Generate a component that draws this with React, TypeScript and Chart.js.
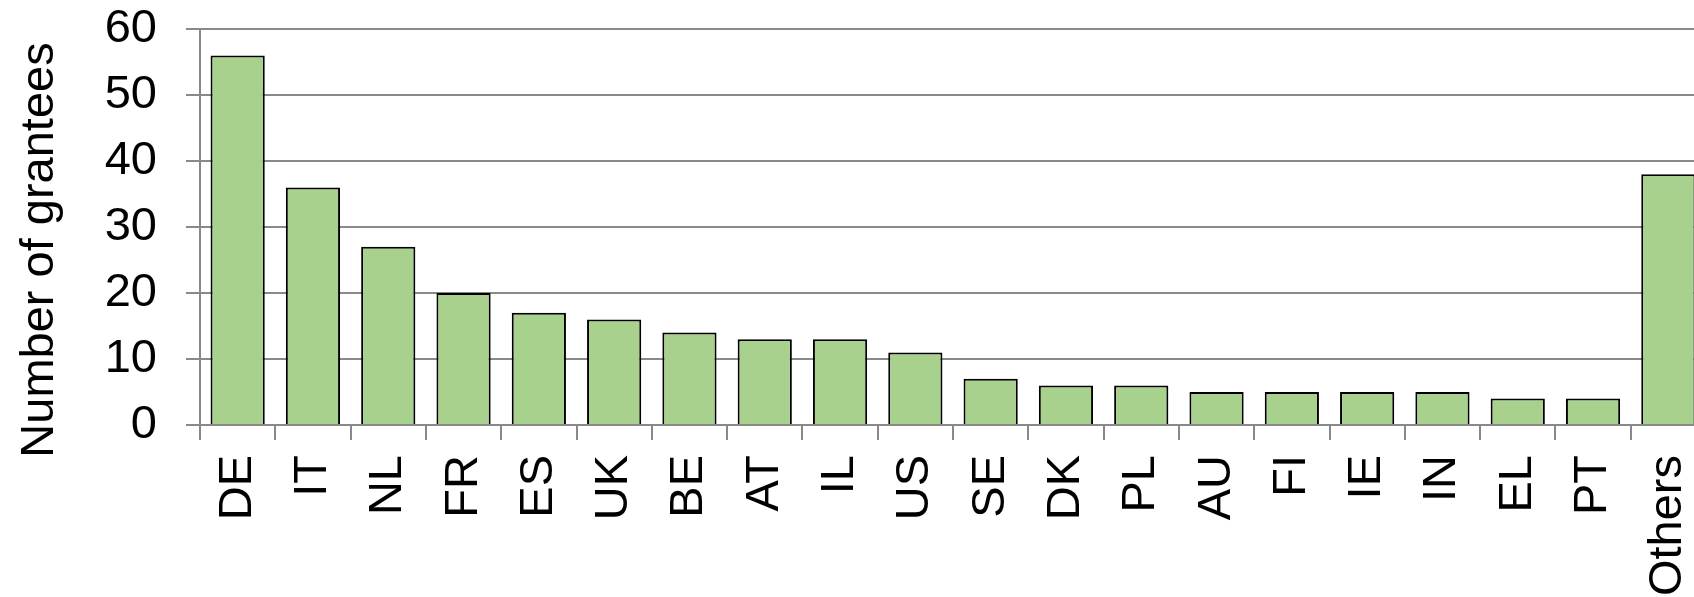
import React, { useEffect, useRef } from "react";
import { Chart, registerables } from "chart.js";

Chart.register(...registerables);

const categories = ["DE", "IT", "NL", "FR", "ES", "UK", "BE", "AT", "IL", "US", "SE", "DK", "PL", "AU", "FI", "IE", "IN", "EL", "PT", "Others"];
const grantees = [56, 36, 27, 20, 17, 16, 14, 13, 13, 11, 7, 6, 6, 5, 5, 5, 5, 4, 4, 38];
const yTicks = [0, 10, 20, 30, 40, 50, 60];
const yTitle = "Number of grantees";

const FONT = "'Liberation Sans', Arial, sans-serif";
const FS = 47;

const yTitlePlugin = {
  id: "yTitlePlugin",
  afterDraw(chart: any) {
    const ctx = chart.ctx;
    const area = chart.chartArea;
    ctx.save();
    ctx.translate(53, area.top + 221);
    ctx.rotate(-Math.PI / 2);
    ctx.font = `${FS}px ${FONT}`;
    ctx.fillStyle = "#000";
    ctx.textAlign = "center";
    ctx.textBaseline = "alphabetic";
    ctx.fillText(yTitle, 0, 0);
    ctx.restore();
  },
};

export default function App() {
  const ref = useRef<HTMLCanvasElement | null>(null);
  useEffect(() => {
    if (!ref.current) return;
    const chart = new Chart(ref.current, {
      type: "bar",
      data: {
        labels: categories,
        datasets: [
          {
            data: grantees,
            backgroundColor: "#A9D18E",
            borderColor: "#000000",
            borderWidth: 2,
            categoryPercentage: 1,
            barPercentage: 0.72,
          },
        ],
      },
      plugins: [yTitlePlugin],
      options: {
        responsive: false,
        animation: false,
        layout: { padding: { top: 29, right: 0, bottom: 0, left: 0 } },
        plugins: { legend: { display: false }, tooltip: { enabled: false } },
        scales: {
          x: {
            afterFit: (scale: any) => {
              scale.height = 172;
              scale.paddingLeft = 0;
              scale.paddingRight = 0;
            },
            grid: {
              display: true,
              drawOnChartArea: false,
              drawTicks: true,
              tickLength: 15,
              color: "#898989",
              lineWidth: 2,
              offset: true,
            },
            border: { display: true, color: "#898989", width: 2 },
            ticks: {
              color: "#000",
              font: { family: FONT, size: FS },
              maxRotation: 90,
              minRotation: 90,
              padding: 15,
              autoSkip: false,
            },
          },
          y: {
            min: 0,
            max: 60,
            afterBuildTicks: (axis: any) => {
              axis.ticks = yTicks.map((v) => ({ value: v }));
            },
            afterFit: (scale: any) => {
              scale.width = 200;
              scale.paddingTop = 0;
              scale.paddingBottom = 0;
            },
            grid: {
              color: "#898989",
              lineWidth: 2,
              drawTicks: true,
              tickLength: 14,
            },
            border: { display: true, color: "#898989", width: 2 },
            ticks: {
              color: "#000",
              font: { family: FONT, size: FS },
              padding: 29,
            },
            title: { display: false },
          },
        },
      },
    });
    return () => chart.destroy();
  }, []);
  return (
    <div style={{ position: "absolute", left: 0, top: 0, width: 1694, height: 597, overflow: "hidden", background: "#fff" }}>
      <canvas ref={ref} width={1706} height={597} style={{ display: "block" }} />
    </div>
  );
}
